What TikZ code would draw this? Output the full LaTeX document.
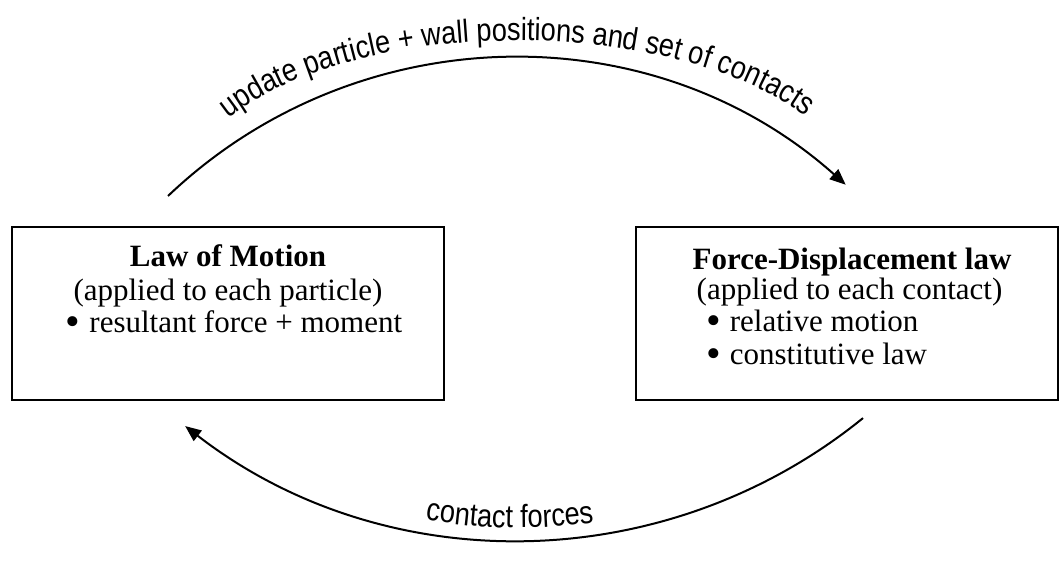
\documentclass[tikz,border=0pt]{standalone}
\usepackage{fontspec}
\setmainfont{Liberation Serif}
\newfontfamily\arcfont[FakeStretch=0.85]{Liberation Sans}
\usetikzlibrary{arrows.meta,decorations.text}
\newcommand{\bigbul}{\raisebox{-2.5pt}{\scalebox{1.35}{\textbullet}}\hspace{9pt}}
\begin{document}
\begin{tikzpicture}[x=1pt,y=1pt,
  box/.style={draw, line width=2.3pt, inner sep=0pt, minimum height=173pt},
  boxtext/.style={font=\fontsize{31}{31}\selectfont, inner sep=0pt, anchor=base},
  bullettext/.style={boxtext, anchor=base west},
  flow/.style={line width=2pt, -{Triangle[length=16pt,width=13pt]}},
]
\useasboundingbox (0,0) rectangle (1060,562);
% boxes
\node[box, minimum width=432pt] (lbox) at (228,248.5) {};
\node[box, minimum width=422pt] (rbox) at (847,248.5) {};
% left box text
\node[boxtext] (l1) at (228,295) {\bfseries Law of Motion};
\node[boxtext] (l2) at (228,261) {(applied to each particle)};
\node[boxtext] (l3) at (234,229) {\bigbul resultant force + moment};
% right box text
\node[boxtext] (r1) at (852,292) {\bfseries Force-Displacement law};
\node[boxtext] (r2) at (849.5,262) {(applied to each contact)};
\node[bullettext] (r3) at (706,230) {\bigbul relative motion};
\node[bullettext] (r4) at (706,197) {\bigbul constitutive law};
% arcs
\coordinate (ustart) at (168,366);
\draw[flow] (ustart) arc[start angle=133.6, end angle=48.3, radius=500.25];
\coordinate (lstart) at (863,143.9);
\draw[flow] (lstart) arc[start angle=-50.95, end angle=-127.7, radius=546];
% labels along arcs
\coordinate (utext) at (208,425);
\coordinate (utextend) at (826,428);
\path[decorate, decoration={text along path, text align=center,
  text={|\arcfont\fontsize{32}{32}\selectfont|update particle + wall positions and set of contacts}}]
  (utext) .. controls (330,553) and (700,553) .. (utextend);
\coordinate (ltext) at (244,110.3);
\path[decorate, decoration={text along path, text align=center,
  text={|\arcfont\fontsize{32}{32}\selectfont|contact forces}}]
  (ltext) arc[start angle=239, end angle=299, radius=534];
\end{tikzpicture}
\end{document}
